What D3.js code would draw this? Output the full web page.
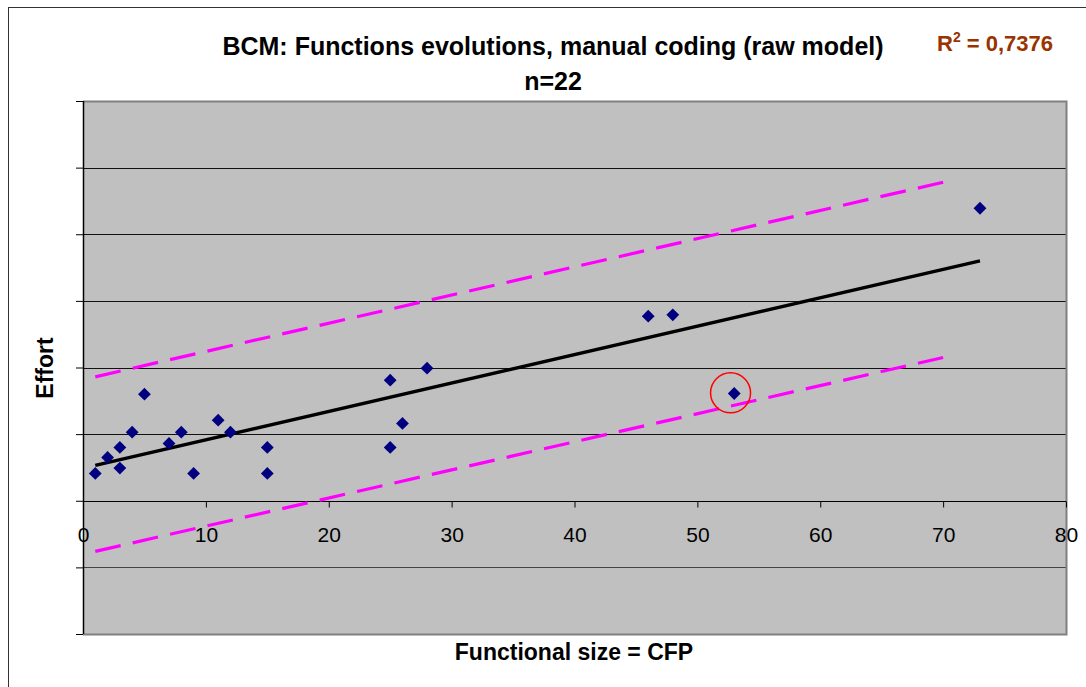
<!DOCTYPE html>
<html><head><meta charset="utf-8">
<script src="https://cdn.jsdelivr.net/npm/d3@7"></script>
<style>
html,body{margin:0;padding:0;background:#fff;}
svg text{font-family:"Liberation Sans",Arial,sans-serif;}
</style></head>
<body>
<svg id="chart" width="1086" height="687"></svg>
<script>
// ---- data ----
const sizes   = [1, 2, 3, 3, 4, 5, 7, 8, 9, 11, 12, 15, 15, 25, 25, 26, 28, 46, 48, 53, 73];
const efforts = [0.41, 0.65, 0.80, 0.49, 1.03, 1.60, 0.86, 1.03, 0.41, 1.21, 1.03, 0.80, 0.41, 1.81, 0.80, 1.16, 1.99, 2.77, 2.79, 1.61, 4.39];
const fitX   = [1, 73];
const fitY   = [0.53, 3.60];
const bandX  = [1, 70];
const upperY = [1.86, 4.78];
const lowerY = [-0.76, 2.15];
const outlier = [52.7, 1.62];
const xTicks = [0, 10, 20, 30, 40, 50, 60, 70, 80];
const yGrid  = [-2, -1, 0, 1, 2, 3, 4, 5, 6];
const titleLines = ["BCM: Functions evolutions, manual coding (raw model)", "n=22"];
const r2Label = ["R", "2", " = 0,7376"];
const xTitle = "Functional size = CFP";
const yTitle = "Effort";

// ---- layout ----
const svg = d3.select("#chart");
const L = 83, R = 1066, T = 101, B = 634;
const x = d3.scaleLinear().domain([0, 80]).range([L, R]);
const y = d3.scaleLinear().domain([-2, 6]).range([B, T]);

// outer frame
svg.append("rect").attr("x", 8.5).attr("y", 7.5).attr("width", 1100).attr("height", 700)
  .attr("fill", "#fff").attr("stroke", "#333").attr("stroke-width", 1);

// plot background
svg.append("rect").attr("x", L).attr("y", T).attr("width", R - L).attr("height", B - T)
  .attr("fill", "#C0C0C0");

// gridlines
svg.append("g").selectAll("line").data(yGrid.filter(v => v !== 6 && v !== -2 && v !== 0)).join("line")
  .attr("x1", L).attr("x2", R)
  .attr("y1", d => Math.round(y(d)) + 0.5).attr("y2", d => Math.round(y(d)) + 0.5)
  .attr("stroke", d => d < 0 ? "#444" : "#111").attr("stroke-width", 1);

// plot border (top, right, bottom)
svg.append("path")
  .attr("d", `M${L},${T + 0.5}H${R + 0.5}V${B + 0.5}H${L}`)
  .attr("fill", "none").attr("stroke", "#808080").attr("stroke-width", 2);

// y axis line with left ticks (no labels)
const yAxis = d3.axisLeft(y).tickValues(yGrid).tickSize(7).tickFormat("");
const gy = svg.append("g").attr("transform", `translate(${L},0)`).call(yAxis);
gy.select(".domain").attr("stroke", "#000").attr("stroke-width", 1.5).attr("d", `M0.5,${T}V${B}`);
gy.selectAll(".tick line").attr("stroke", "#000");

// x axis at y=0 with down ticks
const xAxis = d3.axisBottom(x).tickValues(xTicks).tickSize(6).tickFormat(d3.format("d"));
const gx = svg.append("g").attr("transform", `translate(0,${Math.round(y(0)) + 0.5})`).call(xAxis);
gx.select(".domain").attr("stroke", "#000").attr("d", `M${L},0H${R}`);
gx.selectAll(".tick line").attr("stroke", "#000");
gx.selectAll(".tick text").attr("fill", "#000").attr("font-size", 21)
  .attr("y", 40).attr("dy", 0).style("font-family", "'Liberation Sans',Arial,sans-serif");

// confidence band lines (dashed magenta)
const line = d3.line().x(d => x(d[0])).y(d => y(d[1]));
[upperY, lowerY].forEach(ys => {
  svg.append("path").datum(bandX.map((v, i) => [v, ys[i]]))
    .attr("d", line).attr("fill", "none").attr("stroke", "#FF00FF")
    .attr("stroke-width", 3.2).attr("stroke-dasharray", "26,12.36");
});

// regression line
svg.append("path").datum(fitX.map((v, i) => [v, fitY[i]]))
  .attr("d", line).attr("fill", "none").attr("stroke", "#000").attr("stroke-width", 3.4);

// points (diamonds)
const diamond = d3.symbol().type(d3.symbolSquare).size(82);
svg.append("g").selectAll("path").data(sizes.map((v, i) => [v, efforts[i]])).join("path")
  .attr("d", diamond)
  .attr("transform", d => `translate(${x(d[0])},${y(d[1])}) rotate(45)`)
  .attr("fill", "#000080");

// outlier circle
svg.append("circle").attr("cx", x(outlier[0])).attr("cy", y(outlier[1])).attr("r", 20)
  .attr("fill", "none").attr("stroke", "#FF0000").attr("stroke-width", 1.5);

// titles
svg.append("text").attr("x", 553).attr("y", 55).attr("text-anchor", "middle")
  .attr("font-size", 25).attr("font-weight", "bold").text(titleLines[0]);
svg.append("text").attr("x", 553).attr("y", 90).attr("text-anchor", "middle")
  .attr("font-size", 25).attr("font-weight", "bold").text(titleLines[1]);

const r2 = svg.append("text").attr("x", 937).attr("y", 51)
  .attr("font-size", 22).attr("font-weight", "bold").attr("fill", "#993300");
r2.append("tspan").text(r2Label[0]);
r2.append("tspan").attr("dy", -9).attr("font-size", 14).text(r2Label[1]);
r2.append("tspan").attr("dy", 9).text(r2Label[2]);

svg.append("text").attr("x", 574).attr("y", 660).attr("text-anchor", "middle")
  .attr("font-size", 23).attr("font-weight", "bold").text(xTitle);
svg.append("text").attr("transform", "translate(53,368) rotate(-90)").attr("text-anchor", "middle")
  .attr("font-size", 23).attr("font-weight", "bold").text(yTitle);
</script>
</body></html>
